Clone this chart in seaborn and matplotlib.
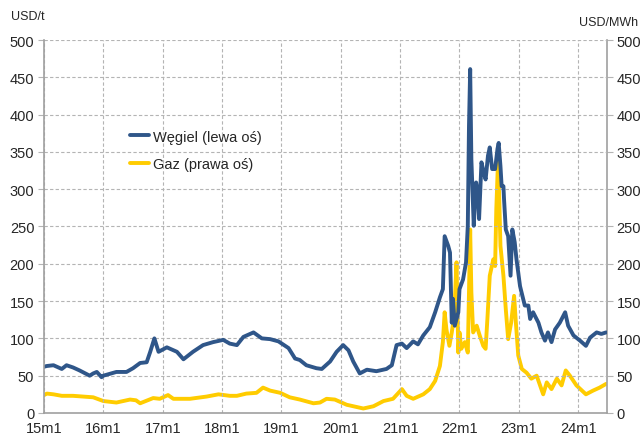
import matplotlib
matplotlib.use("Agg")
import matplotlib.pyplot as plt
import seaborn as sns
import pandas as pd
from matplotlib.lines import Line2D

# ---- data (decimal years) ----
coal_t = [2015.00, 2015.05, 2015.16, 2015.30, 2015.38, 2015.49, 2015.60, 2015.77, 2015.83, 2015.89,
          2015.97, 2016.00, 2016.22, 2016.39, 2016.50, 2016.62, 2016.73, 2016.79, 2016.86, 2016.93,
          2017.07, 2017.24, 2017.35, 2017.51, 2017.68, 2017.85, 2018.02, 2018.13, 2018.25, 2018.36,
          2018.53, 2018.67, 2018.81, 2018.95, 2019.12, 2019.23, 2019.31, 2019.42, 2019.59, 2019.68,
          2019.82, 2019.93, 2020.04, 2020.13, 2020.21, 2020.32, 2020.44, 2020.60, 2020.77, 2020.86,
          2020.94, 2021.03, 2021.11, 2021.22, 2021.30, 2021.39, 2021.50, 2021.59, 2021.67, 2021.72,
          2021.75, 2021.81, 2021.84, 2021.87, 2021.89, 2021.92, 2021.98, 2022.00, 2022.06, 2022.11,
          2022.14, 2022.16, 2022.18, 2022.20, 2022.22, 2022.24, 2022.28, 2022.31, 2022.33, 2022.37,
          2022.41, 2022.44, 2022.48, 2022.51, 2022.55, 2022.60, 2022.64, 2022.66, 2022.69, 2022.71,
          2022.74, 2022.75, 2022.78, 2022.82, 2022.86, 2022.89, 2022.93, 2022.96, 2023.02, 2023.06,
          2023.10, 2023.16, 2023.19, 2023.24, 2023.33, 2023.38, 2023.44, 2023.49, 2023.55, 2023.61,
          2023.69, 2023.78, 2023.83, 2023.92, 2024.03, 2024.13, 2024.20, 2024.31, 2024.39, 2024.47]
coal_v = [62, 63, 64, 59, 64, 61, 57, 50, 53, 55,
          48, 50, 55, 55, 60, 67, 68, 82, 100, 82,
          88, 82, 72, 82, 91, 95, 98, 93, 91, 102,
          108, 100, 99, 96, 87, 73, 71, 64, 60, 59,
          69, 82, 91, 84, 69, 53, 58, 56, 59, 64,
          91, 93, 87, 96, 92, 104, 115, 135, 155, 166,
          237, 224, 215, 121, 153, 117, 135, 166, 179, 202,
          251, 385, 461, 340, 296, 251, 309, 296, 260, 336,
          322, 313, 345, 356, 327, 327, 354, 362, 331, 304,
          304, 287, 246, 237, 184, 246, 229, 206, 170, 157,
          144, 144, 126, 135, 121, 108, 97, 108, 95, 112,
          121, 135, 117, 104, 97, 90, 101, 108, 106, 108]

gas_t = [2015.00, 2015.05, 2015.16, 2015.30, 2015.49, 2015.66, 2015.83, 2016.00, 2016.22, 2016.45,
         2016.55, 2016.62, 2016.84, 2016.95, 2017.09, 2017.18, 2017.46, 2017.74, 2017.94, 2018.13,
         2018.25, 2018.41, 2018.58, 2018.69, 2018.81, 2018.98, 2019.14, 2019.31, 2019.54, 2019.65,
         2019.76, 2019.90, 2020.10, 2020.38, 2020.55, 2020.72, 2020.88, 2021.03, 2021.11, 2021.22,
         2021.39, 2021.50, 2021.59, 2021.67, 2021.72, 2021.75, 2021.78, 2021.83, 2021.87, 2021.91,
         2021.95, 2021.98, 2022.00, 2022.03, 2022.09, 2022.14, 2022.16, 2022.18, 2022.20, 2022.23,
         2022.29, 2022.34, 2022.40, 2022.44, 2022.47, 2022.51, 2022.57, 2022.60, 2022.62, 2022.65,
         2022.67, 2022.69, 2022.74, 2022.78, 2022.82, 2022.87, 2022.92, 2022.95, 2022.99, 2023.05,
         2023.13, 2023.21, 2023.30, 2023.41, 2023.47, 2023.55, 2023.64, 2023.72, 2023.79, 2023.86,
         2023.97, 2024.13, 2024.25, 2024.36, 2024.47]
gas_v = [24, 26, 25, 23, 23, 22, 21, 16, 14, 18,
         17, 13, 20, 19, 24, 19, 19, 22, 25, 23,
         23, 26, 27, 34, 30, 27, 21, 18, 13, 14,
         19, 18, 11, 6, 9, 16, 19, 32, 23, 19,
         25, 32, 43, 63, 95, 135, 112, 90, 108, 130,
         202, 81, 108, 86, 95, 81, 162, 246, 162, 108,
         117, 104, 90, 86, 126, 184, 206, 197, 273, 340,
         287, 224, 184, 139, 99, 121, 157, 121, 77, 59,
         54, 46, 50, 25, 41, 32, 46, 37, 57, 50,
         37, 25, 30, 34, 39]

years = list(range(2015, 2025))
xlabels = [f"{y % 100}m1" for y in years]

coal = pd.DataFrame({"t": coal_t, "v": coal_v})
gas = pd.DataFrame({"t": gas_t, "v": gas_v})

# ---- style ----
sns.set_theme(style="white")
plt.rcParams["font.family"] = ["Liberation Sans", "DejaVu Sans"]

COAL = "#2F5689"
GAS = "#FFCC00"
GRID = "#B4B4B4"
LW = 2.8

fig = plt.figure(figsize=(6.41, 4.39), dpi=100)
ax = fig.add_axes([0.0686, 0.057, 0.8779, 0.8496])
ax2 = ax.twinx()

sns.lineplot(data=gas, x="t", y="v", ax=ax2, color=GAS, linewidth=LW, estimator=None)
sns.lineplot(data=coal, x="t", y="v", ax=ax, color=COAL, linewidth=LW, estimator=None)

# coal drawn above gas
ax.set_zorder(ax2.get_zorder() + 1)
ax.patch.set_visible(False)

for a in (ax, ax2):
    a.set_ylim(0, 500)
    a.set_yticks(range(0, 501, 50))
    a.set_xlim(2015, 2024.48)
    a.set_xlabel("")
    a.set_ylabel("")
    a.tick_params(axis="y", direction="out", length=4, width=0.8, color=GRID,
                  labelsize=10.5, pad=3)
    for s in a.spines.values():
        s.set_visible(False)

ax.set_xticks(years)
ax.set_xticklabels(xlabels)
ax.tick_params(axis="x", direction="out", length=4, width=0.8, color=GRID,
               labelsize=10.5, pad=2)
ax.grid(True, linestyle=(0, (3, 2)), color=GRID, linewidth=0.8)
ax.spines["left"].set_visible(True)
ax.spines["bottom"].set_visible(True)
ax2.spines["right"].set_visible(True)
for s in (ax.spines["left"], ax.spines["bottom"], ax2.spines["right"]):
    s.set_color("#A0A0A0")
    s.set_linewidth(1.2)

handles = [Line2D([], [], color=COAL, linewidth=LW),
           Line2D([], [], color=GAS, linewidth=LW)]
ax.legend(handles, ["Węgiel (lewa oś)", "Gaz (prawa oś)"], frameon=False,
          loc="upper left", bbox_to_anchor=(0.13, 0.795), fontsize=10.5,
          handlelength=1.3, handletextpad=0.25, labelspacing=0.95)

fig.text(0.017, 0.962, "USD/t", fontsize=9, va="center", ha="left")
fig.text(0.995, 0.948, "USD/MWh", fontsize=9, va="center", ha="right")

fig.savefig("out.png", dpi=100)
